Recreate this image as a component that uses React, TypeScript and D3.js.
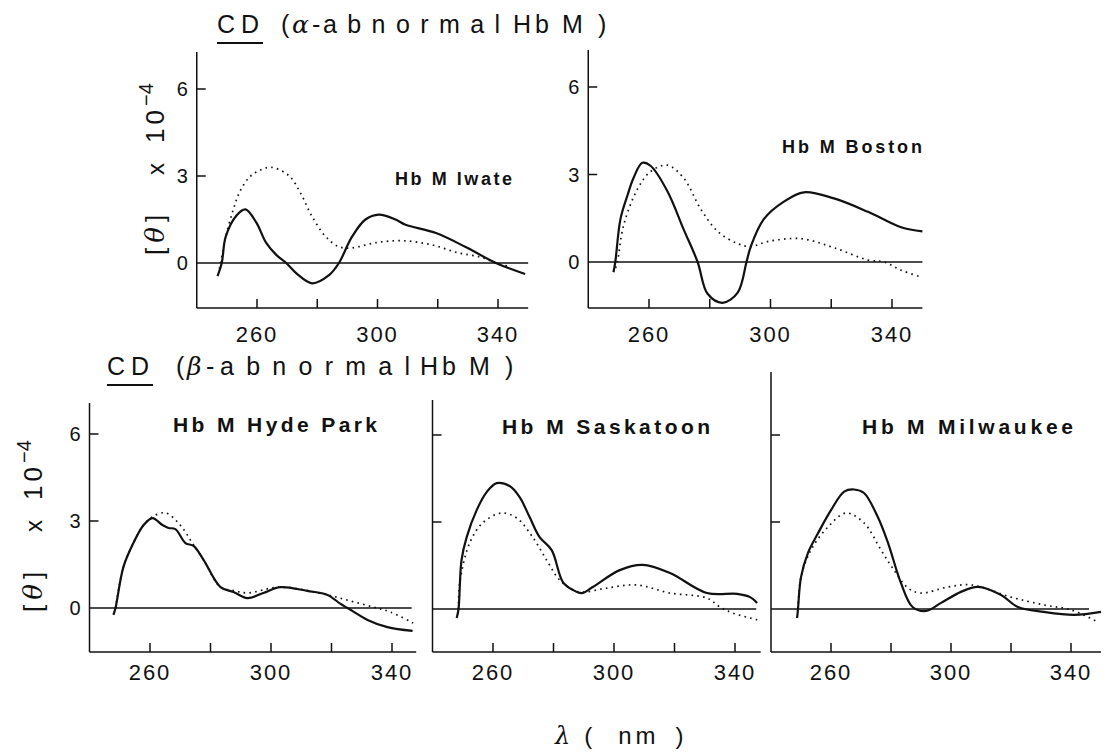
import React from "react";
import * as d3 from "d3";

// ---------- data (wavelength nm, [θ] x 10^-4) ----------
const X_TICKS = [260, 280, 300, 320, 340];
const X_TICK_LABELS = [260, 300, 340];
const Y_TICKS = [3, 6];
const Y_TICK_LABELS = [0, 3, 6];

const iwateMutant: [number, number][] = [
  [246.9, -0.45], [248.3, 0], [249.6, 0.9], [253.2, 1.64], [256.2, 1.85], [259.8, 1.39],
  [263, 0.7], [266.4, 0.28], [269.7, 0], [273, -0.35], [278.3, -0.7], [283.9, -0.42],
  [287.2, 0], [291.5, 0.9], [296, 1.5], [300.4, 1.67], [306, 1.5], [309.3, 1.32],
  [319.2, 1.04], [329.1, 0.56], [339.3, 0], [349, -0.38],
];
const iwateNormal: [number, number][] = [
  [247.5, -0.2], [248.5, 0.3], [249.6, 0.9], [252, 1.8], [254.2, 2.44], [257.5, 2.96],
  [261, 3.2], [264.8, 3.3], [270.7, 3.0], [274.5, 2.4], [278.3, 1.6], [282.9, 0.9],
  [287.2, 0.56], [291.5, 0.52], [299.4, 0.7], [308, 0.77], [317.9, 0.63], [326.8, 0.35],
  [334.4, 0.2], [339.3, 0], [343, -0.1],
];

const bostonMutant: [number, number][] = [
  [248.3, -0.35], [248.9, 0], [250.6, 1.47], [252.9, 2.28], [254.9, 2.88], [257.8, 3.4],
  [260.5, 3.3], [266.1, 2.42], [271.4, 1.12], [276, 0], [279.3, -1.09], [284.2, -1.4],
  [289.2, -1.05], [292.1, 0], [293.5, 0.53], [297.8, 1.47], [304.4, 2.07], [311, 2.39],
  [320.9, 2.18], [332.1, 1.72], [343, 1.19], [350, 1.05],
];
const bostonNormal: [number, number][] = [
  [249, -0.2], [249.6, 0], [251.6, 1.24], [256.2, 2.5], [260.5, 3.1], [266, 3.32],
  [271.4, 2.88], [277, 1.82], [282.6, 1.05], [289.2, 0.63], [293.5, 0.53], [299, 0.7],
  [310, 0.8], [320.9, 0.49], [332, 0.07], [337.4, 0], [343, -0.28], [350, -0.53],
];

const hydeMutant: [number, number][] = [
  [247.9, -0.24], [248.6, 0], [251.2, 1.41], [254.5, 2.24], [257.9, 2.86], [260.8, 3.1],
  [264.1, 2.86], [266.1, 2.76], [268.4, 2.72], [271.7, 2.24], [274.4, 2.14], [277.7, 1.66],
  [283.3, 0.72], [287.6, 0.55], [292.2, 0.34], [297.5, 0.52], [303.1, 0.72], [312, 0.59],
  [318.7, 0.45], [323, 0.14], [325.3, 0], [331.9, -0.41], [338.5, -0.66], [346.8, -0.79],
];
const hydeNormal: [number, number][] = [
  [248.6, 0], [251.2, 1.41], [254.5, 2.24], [257.9, 2.86], [260.8, 3.14], [265.1, 3.28],
  [270, 2.86], [274, 2.24], [277.7, 1.66], [283.3, 0.72], [287.6, 0.6], [292.2, 0.52],
  [303, 0.72], [318.7, 0.45], [326, 0.25], [333.9, 0.03], [339.5, -0.14], [347, -0.52],
];

const saskatoonMutant: [number, number][] = [
  [248, -0.31], [248.6, 0], [249.6, 1.69], [251.3, 2.48], [254.6, 3.41], [257.9, 4.03],
  [261.2, 4.34], [265.5, 4.24], [268.8, 3.86], [272.1, 3.17], [275.4, 2.48], [279.4, 2.03],
  [283.1, 0.93], [286.4, 0.66], [289.3, 0.55], [293, 0.76], [301.9, 1.34], [309.5, 1.52],
  [318.5, 1.24], [330.7, 0.55], [340.7, 0.52], [345, 0.41], [347.3, 0.21],
];
const saskatoonNormal: [number, number][] = [
  [248.6, 0], [249, 0.9], [252.3, 2.28], [256.6, 2.97], [262.8, 3.31], [267.8, 3.14],
  [273.1, 2.48], [277.7, 1.69], [282, 1.0], [286.4, 0.66], [289.3, 0.58], [297.6, 0.72],
  [307.5, 0.83], [318.5, 0.55], [330.7, 0.38], [335, 0.07], [339.3, -0.14], [347.6, -0.38],
];

const milwaukeeMutant: [number, number][] = [
  [248.7, -0.31], [249, 0], [250, 1.1], [252.3, 1.93], [255.7, 2.62], [260, 3.41],
  [264.4, 4.05], [267.7, 4.12], [271, 4.0], [275.6, 3.17], [279, 2.28], [283.3, 0.9],
  [287.2, 0.07], [291.7, -0.07], [296.7, 0.21], [303.3, 0.59], [309, 0.76], [316.7, 0.48],
  [322.3, 0.07], [331, -0.1], [341, -0.2], [350, -0.1],
];
const milwaukeeNormal: [number, number][] = [
  [249, 0], [250, 1.1], [253.3, 2.03], [259, 2.83], [265, 3.31], [271, 2.97],
  [276.7, 2.03], [281, 1.34], [285.7, 0.72], [290, 0.55], [299, 0.76], [306.7, 0.83],
  [320, 0.41], [331, 0.14], [340, -0.03], [349, -0.45],
];

// ---------- layout ----------
const FONT = "'Liberation Sans', Arial, sans-serif";
const INK = "#111";

type PanelCfg = {
  name: string;
  x260: number; x340: number; axisEnd: number; zeroEnd: number;
  y0: number; y6: number; top: number; bottom: number;
  yLabels: boolean; xLabelY: number;
  lx: number; ly: number; lw: number; lfs: number;
  mutant: [number, number][]; normal: [number, number][];
};

const panels: PanelCfg[] = [
  { name: "Hb M Iwate", x260: 257, x340: 498, axisEnd: 350, zeroEnd: 350,
    y0: 263, y6: 89, top: 52, bottom: 308, yLabels: true, xLabelY: 342,
    lx: 395, ly: 185, lw: 117, lfs: 18, mutant: iwateMutant, normal: iwateNormal },
  { name: "Hb M Boston", x260: 649, x340: 892, axisEnd: 350, zeroEnd: 350,
    y0: 262, y6: 87, top: 50, bottom: 308, yLabels: true, xLabelY: 342,
    lx: 782, ly: 153, lw: 140, lfs: 18, mutant: bostonMutant, normal: bostonNormal },
  { name: "Hb M Hyde Park", x260: 150, x340: 392, axisEnd: 348, zeroEnd: 346.5,
    y0: 608, y6: 434, top: 403, bottom: 652, yLabels: true, xLabelY: 680,
    lx: 173, ly: 432, lw: 204, lfs: 21, mutant: hydeMutant, normal: hydeNormal },
  { name: "Hb M Saskatoon", x260: 493, x340: 735, axisEnd: 348.5, zeroEnd: 347,
    y0: 609, y6: 435, top: 400, bottom: 652, yLabels: false, xLabelY: 680,
    lx: 502, ly: 434, lw: 208, lfs: 21, mutant: saskatoonMutant, normal: saskatoonNormal },
  { name: "Hb M Milwaukee", x260: 831, x340: 1071, axisEnd: 350, zeroEnd: 346,
    y0: 609, y6: 435, top: 372, bottom: 652, yLabels: false, xLabelY: 680,
    lx: 862, ly: 434, lw: 211, lfs: 21, mutant: milwaukeeMutant, normal: milwaukeeNormal },
];

function Panel({ p }: { p: PanelCfg }) {
  const x = d3.scaleLinear().domain([260, 340]).range([p.x260, p.x340]);
  const y = d3.scaleLinear().domain([0, 6]).range([p.y0, p.y6]);
  const line = d3
    .line<[number, number]>()
    .x((d) => x(d[0]))
    .y((d) => y(d[1]))
    .curve(d3.curveCatmullRom.alpha(0.5));
  const left = x(240);
  return (
    <g>
      <line x1={left} x2={left} y1={p.top} y2={p.bottom} stroke={INK} strokeWidth={1.5} />
      <line x1={left} x2={x(p.axisEnd)} y1={p.bottom} y2={p.bottom} stroke={INK} strokeWidth={1.5} />
      <line x1={left} x2={x(p.zeroEnd)} y1={y(0)} y2={y(0)} stroke={INK} strokeWidth={1.3} />
      {Y_TICKS.map((t) => (
        <line key={t} x1={left} x2={left + 9} y1={y(t)} y2={y(t)} stroke={INK} strokeWidth={1.5} />
      ))}
      {X_TICKS.map((t) => (
        <line key={t} x1={x(t)} x2={x(t)} y1={p.bottom} y2={p.bottom - 9} stroke={INK} strokeWidth={1.5} />
      ))}
      {p.yLabels &&
        Y_TICK_LABELS.map((t) => (
          <text key={t} x={left - 9} y={y(t) + 7} textAnchor="end" fontSize={20}
            fontFamily={FONT} fill={INK}>{t}</text>
        ))}
      {X_TICK_LABELS.map((t) => (
        <text key={t} x={x(t)} y={p.xLabelY} textAnchor="middle" fontSize={22}
          letterSpacing={2} fontFamily={FONT} fill={INK}>{t}</text>
      ))}
      <path d={line(p.normal) || ""} fill="none" stroke={INK} strokeWidth={1.7}
        strokeDasharray="1.6 4.2" />
      <path d={line(p.mutant) || ""} fill="none" stroke={INK} strokeWidth={2.2}
        strokeLinejoin="round" />
      <text x={p.lx} y={p.ly} fontSize={p.lfs} fontWeight="bold" fontFamily={FONT}
        fill={INK} textLength={p.lw} lengthAdjust="spacing">{p.name}</text>
    </g>
  );
}

function YLabel({ x, y }: { x: number; y: number }) {
  return (
    <text transform={`translate(${x},${y}) rotate(-90)`} fontSize={26} fontFamily={FONT} fill={INK}>
      <tspan letterSpacing={5}>[</tspan>
      <tspan fontFamily="'DejaVu Serif', serif" fontStyle="italic" letterSpacing={5}>θ</tspan>
      <tspan>]</tspan>
      <tspan dx={40} fontSize={24}>x</tspan>
      <tspan dx={20} letterSpacing={4}>10</tspan>
      <tspan dx={0} dy={-11} fontSize={20}>−4</tspan>
    </text>
  );
}

function Title({ x, y, greek, parts }: { x: number; y: number; greek: string; parts: number[] }) {
  // parts: [parenX, greekX, dashX, abnormalX, abnormalW, hbX, mX, closeX]
  const [px, gx, dx, ax, aw, hx, mx, cx] = parts;
  return (
    <g fontFamily={FONT} fill={INK} fontSize={25}>
      <text x={x} y={y} letterSpacing={6}>CD</text>
      <line x1={x} x2={x + 46} y1={y + 10} y2={y + 10} stroke={INK} strokeWidth={2} />
      <text x={px} y={y}>(</text>
      <text x={gx} y={y} fontFamily="'DejaVu Serif', serif" fontStyle="italic">{greek}</text>
      <text x={dx} y={y}>-</text>
      <text x={ax} y={y} textLength={aw} lengthAdjust="spacing">abnormal</text>
      <text x={hx} y={y} textLength={36} lengthAdjust="spacing">Hb</text>
      <text x={mx} y={y}>M</text>
      <text x={cx} y={y}>)</text>
    </g>
  );
}

export default function App() {
  return (
    <svg width={1114} height={756} viewBox="0 0 1114 756"
      style={{ position: "absolute", left: 0, top: 0, background: "#fff" }}>
      <rect x={0} y={0} width={1114} height={756} fill="#fff" />
      <Title x={217} y={33} greek="α" parts={[281, 292, 312, 323, 177, 513, 562, 598]} />
      <Title x={107} y={375} greek="β" parts={[176, 187, 206, 220, 190, 420, 469, 505]} />
      {panels.map((p) => (
        <Panel key={p.name} p={p} />
      ))}
      <YLabel x={164} y={255} />
      <YLabel x={42} y={612} />
      <text x={555} y={744} fontSize={24} fontFamily={FONT} fill={INK}>
        <tspan fontFamily="'DejaVu Serif', serif" fontStyle="italic">λ</tspan>
        <tspan dx={14}>(</tspan>
        <tspan dx={26} letterSpacing={4}>nm</tspan>
        <tspan dx={16}>)</tspan>
      </text>
    </svg>
  );
}
